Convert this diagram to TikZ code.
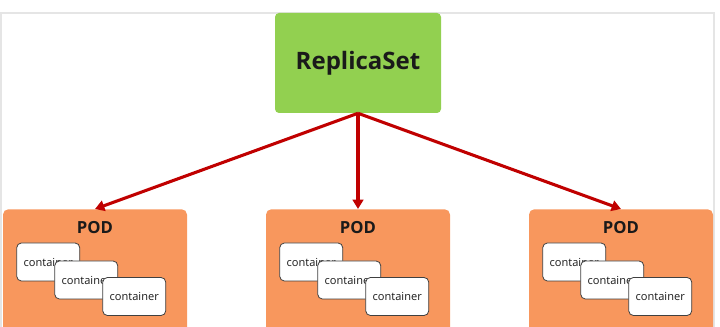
\documentclass[tikz,border=0pt]{standalone}
\usepackage{fontspec}
\setmainfont{Open Sans}
\usetikzlibrary{arrows.meta,calc}

\definecolor{rsgreen}{HTML}{92D050}
\definecolor{podorange}{HTML}{F8975D}
\definecolor{arrowred}{HTML}{C00000}
\definecolor{inkdark}{HTML}{1A1A1A}

\begin{document}
\begin{tikzpicture}[x=0.75pt,y=-0.75pt,
  rsbox/.style={fill=rsgreen,rounded corners=3pt,minimum width=124.5pt,
    minimum height=75pt,text=inkdark,font=\bfseries\fontsize{18}{20}\selectfont},
  podbox/.style={fill=podorange,rounded corners=4pt,minimum width=138pt,
    minimum height=97.5pt,anchor=north},
  podlabel/.style={text=inkdark,font=\bfseries\fontsize{12.5}{14}\selectfont},
  cbox/.style={draw=black!75,line width=0.6pt,fill=white,rounded corners=3.5pt,
    minimum width=47.25pt,minimum height=28.5pt,inner sep=0pt,
    text=inkdark,font=\fontsize{8.3}{10}\selectfont},
  link/.style={arrowred,line width=2.3pt,-{Triangle[length=7pt,width=8pt]}}]
  \useasboundingbox (0,0) rectangle (720,327);
  \clip (0,0) rectangle (720,327);
  % faint frame
  \draw[black!10,line width=0.8pt] (1,345) -- (1,13) -- (714,13) -- (714,345);

  \node[rsbox] (rs) at (358,63) {ReplicaSet};

  \foreach \i/\x in {1/95,2/358,3/621} {
    \node[podbox] (pod\i) at (\x,209) {};
    \node[podlabel] (podtxt\i) at (\x,228) {POD};
    \node[cbox] (c\i a) at ($(pod\i.north west)+(45.5,53)$) {container};
    \node[cbox] (c\i b) at ($(pod\i.north west)+(83.5,71)$) {container};
    \node[cbox] (c\i c) at ($(pod\i.north west)+(131.5,87.5)$) {container};
    \draw[link] (rs.south) -- (pod\i.north);
  }
\end{tikzpicture}
\end{document}
